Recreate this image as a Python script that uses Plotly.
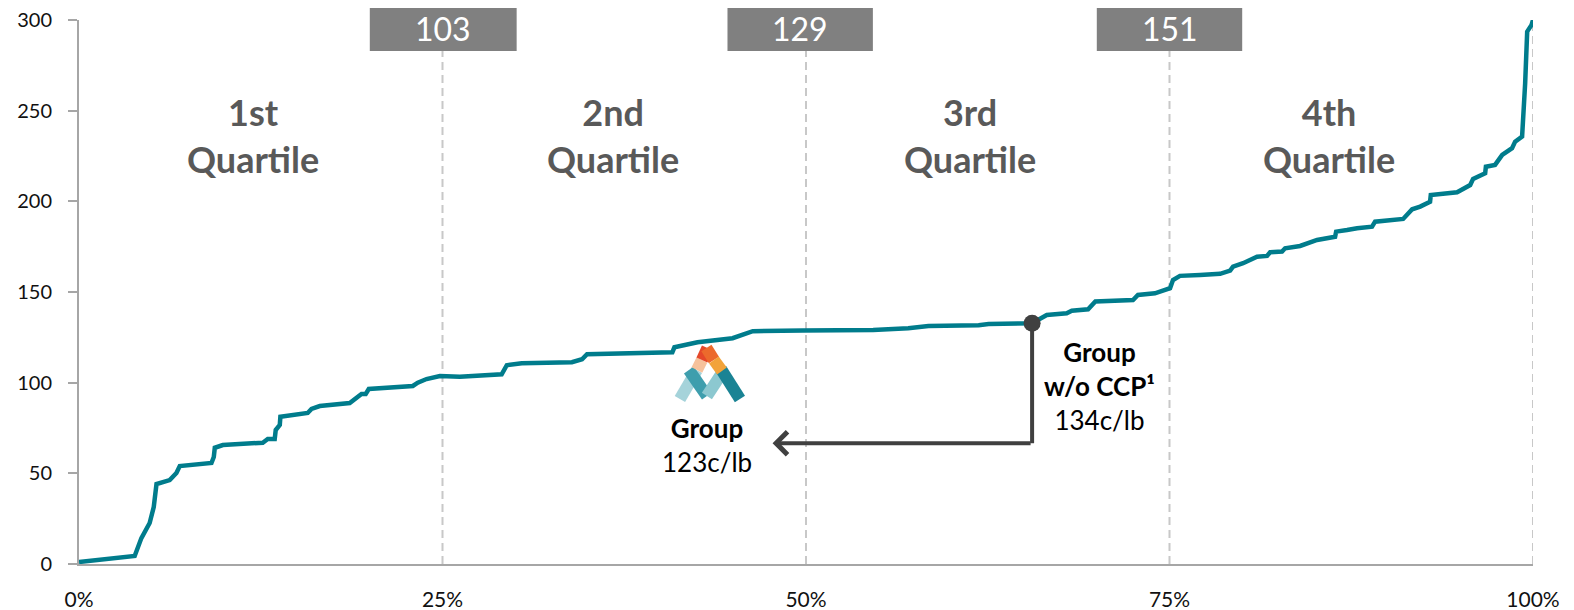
## Cost curve by quartile

import plotly.graph_objects as go

# cumulative production share (%) and cost (c/lb)
share = [0, 3.83, 4.29, 4.86, 5.14, 5.33, 6.24, 6.70, 6.93, 9.11, 9.27, 9.34, 9.89, 11.06,
         12.64, 12.98, 13.46, 13.53, 13.81, 13.85, 14.27, 15.73, 15.99, 16.56, 18.62, 19.08,
         19.43, 19.72, 19.93, 22.96, 23.30, 23.90, 24.82, 26.19, 29.07, 29.42, 30.45, 33.90,
         34.60, 34.94, 38.74, 40.81, 40.95, 42.54, 44.95, 45.78, 46.34, 49.79, 54.62, 57.03,
         58.42, 61.87, 62.56, 65.55, 66.56, 67.93, 68.28, 69.40, 69.90, 72.49, 72.83, 74.00,
         75.04, 75.24, 75.72, 77.10, 78.48, 79.17, 79.37, 80.06, 81.02, 81.71, 81.92, 82.74,
         82.95, 83.98, 85.15, 86.39, 86.46, 87.21, 87.90, 88.93, 89.14, 91.07, 91.69, 92.24,
         92.92, 92.97, 94.78, 95.68, 95.88, 96.71, 96.76, 97.39, 97.88, 98.56, 98.77, 99.25,
         99.32, 99.46, 99.60, 99.90, 100]
cost = [1.1, 4.4, 14.3, 22.6, 31.4, 44.1, 46.3, 50.2, 54.0, 55.7, 59.0, 64.1, 65.6, 66.2,
        66.9, 68.9, 68.9, 73.9, 76.7, 81.2, 81.8, 83.3, 85.5, 87.1, 88.8, 91.6,
        93.8, 93.8, 96.5, 98.2, 100.0, 102.0, 103.7, 103.3, 104.6, 109.6, 110.7, 111.3,
        112.9, 115.7, 116.2, 116.8, 119.5, 122.3, 124.5, 126.8, 128.4, 128.7, 129.0, 130.0,
        131.2, 131.7, 132.3, 132.8, 137.3, 138.3, 139.7, 140.5, 144.8, 145.6, 148.4, 149.3,
        152.1, 156.6, 158.9, 159.4, 160.0, 161.8, 164.0, 165.9, 169.5, 169.9, 171.9, 172.3,
        174.1, 175.4, 178.7, 180.5, 183.3, 184.2, 185.2, 186.0, 188.8, 190.3, 195.6, 197.1,
        199.8, 203.5, 205.0, 209.0, 212.4, 215.5, 219.1, 220.1, 225.6, 229.3, 232.9, 235.7,
        244.9, 265.1, 293.6, 297.3, 300]

quartile_names = ["1st", "2nd", "3rd", "4th"]
quartile_bounds = [25, 50, 75]
quartile_values = ["103", "129", "151"]
x_ticks = [0, 25, 50, 75, 100]
x_tick_text = ["0%", "25%", "50%", "75%", "100%"]

group_x, group_cost = 47.7, 123
wo_ccp_x, wo_ccp_y, wo_ccp_cost = 65.55, 132.8, 134

TEAL = "#007C8C"
DARK = "#404040"
FONT = "Lato"

fig = go.Figure()
fig.add_trace(go.Scatter(x=share, y=cost, mode="lines",
                         line=dict(color=TEAL, width=4.5), hoverinfo="skip"))

# connector from the w/o CCP point down and across to the Group label
arrow_y = 66.6
fig.add_trace(go.Scatter(x=[wo_ccp_x, wo_ccp_x], y=[wo_ccp_y, arrow_y], mode="lines",
                         line=dict(color=DARK, width=4), hoverinfo="skip"))
fig.add_trace(go.Scatter(x=[wo_ccp_x], y=[wo_ccp_y], mode="markers",
                         marker=dict(color=DARK, size=17), hoverinfo="skip"))
fig.add_annotation(x=group_x, y=arrow_y, ax=wo_ccp_x, ay=arrow_y, axref="x", ayref="y",
                   xref="x", yref="y", text="", showarrow=True, arrowhead=4,
                   arrowsize=1.1, arrowwidth=4, arrowcolor=DARK)

shapes = []
for b in quartile_bounds + [100]:
    shapes.append(dict(type="line", xref="x", yref="y", x0=b, x1=b, y0=0, y1=300,
                       line=dict(color="#C8C8C8", width=2, dash="8px,5px"), layer="below"))

# grey value boxes at the quartile boundaries
box_x = [(20.0, 30.1), (44.6, 54.6), (70.0, 80.0)]
for (x0, x1), val in zip(box_x, quartile_values):
    shapes.append(dict(type="rect", xref="paper", yref="paper", x0=x0 / 100, x1=x1 / 100,
                       y0=0.943, y1=1.0276, fillcolor="#808080", line=dict(width=0), layer="above"))
    fig.add_annotation(x=(x0 + x1) / 200, y=0.985, xref="paper", yref="paper", text=val,
                       showarrow=False, font=dict(family=FONT, size=32, color="white"),
                       xanchor="center", yanchor="middle")

# quartile headings
q_label_x = [12.0, 36.7, 61.3, 86.0]
for name, qx in zip(quartile_names, q_label_x):
    fig.add_annotation(x=qx, y=236.5, xref="x", yref="y", text=f"<b>{name}<br>Quartile</b>",
                       showarrow=False, font=dict(family=FONT, size=36, color="#595959"),
                       align="center", yanchor="middle")

# logo (simple ribbon "M" drawn with strokes), in pixel coordinates
def px(x, y):
    return (x - 79.3) / 1453.5, (564 - y) / 544

logo = [((680, 399), (697, 370), "#A5D3DA"),
        ((689, 370), (707, 396), "#3E9EAD"),
        ((707, 396), (724, 370), "#8CC8D0"),
        ((721, 369), (740, 399), "#1A8394"),
        ((697, 370), (702, 360), "#F6C29C"),
        ((702, 360), (707.5, 348), "#E5482A"),
        ((706.5, 348), (714, 360), "#EC6A2C"),
        ((714, 360), (722, 371), "#F2A33A")]
for p0, p1, c in logo:
    x0, y0 = px(*p0)
    x1, y1 = px(*p1)
    shapes.append(dict(type="line", xref="paper", yref="paper", x0=x0, y0=y0, x1=x1, y1=y1,
                       line=dict(color=c, width=12), layer="above"))

fig.add_annotation(x=43.2, y=65.6, xref="x", yref="y",
                   text=f"<b>Group</b><br>{group_cost}c/lb", showarrow=False,
                   font=dict(family=FONT, size=26, color="black"), align="center", yanchor="middle")
fig.add_annotation(x=70.2, y=98.2, xref="x", yref="y",
                   text=f"<b>Group<br>w/o CCP¹</b><br>{wo_ccp_cost}c/lb", showarrow=False,
                   font=dict(family=FONT, size=26, color="black"), align="center", yanchor="middle")

# page body adds an 8px offset, so the figure is a little smaller than the window
fig.update_layout(
    width=1566, height=602, showlegend=False,
    paper_bgcolor="white", plot_bgcolor="white",
    margin=dict(l=71, r=41, t=12, b=46),
    shapes=shapes,
    font=dict(family=FONT, size=21, color="#111111"),
    xaxis=dict(range=[0, 100], tickvals=x_ticks, ticktext=x_tick_text, showgrid=False,
               zeroline=False, showline=True, linecolor="#A6A6A6", linewidth=2, ticks="",
               ticklabelstandoff=16, automargin=False, ticklabeloverflow="allow"),
    yaxis=dict(range=[0, 300], dtick=50, showgrid=False, zeroline=False, showline=True,
               linecolor="#A6A6A6", linewidth=2, ticks="outside", ticklen=9,
               tickcolor="#A6A6A6", tickwidth=2, ticklabelstandoff=12, automargin=False,
               ticklabeloverflow="allow", tickfont=dict(size=20)),
)

fig.write_html("out.html")
